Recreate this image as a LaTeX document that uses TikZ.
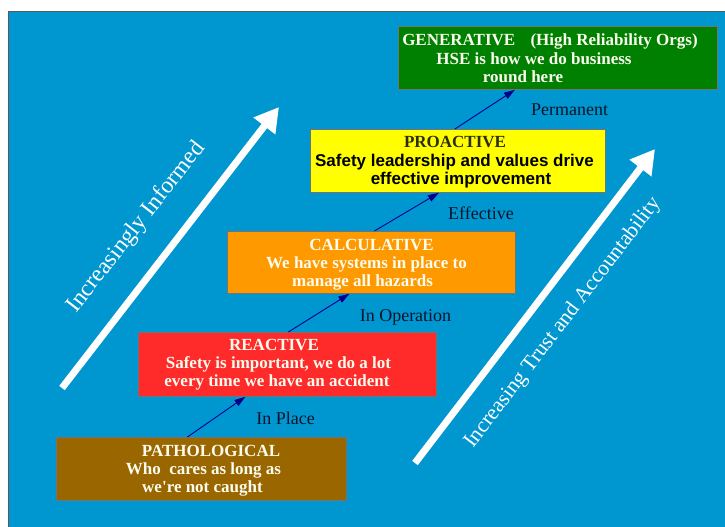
\documentclass[tikz,border=0pt]{standalone}
\usepackage{fontspec}
\setmainfont{Liberation Serif}
\newfontfamily\arialf{Liberation Sans}
\usetikzlibrary{arrows.meta,calc}
\definecolor{bgblue}{RGB}{0,150,208}
\definecolor{genfill}{RGB}{0,128,0}
\definecolor{profill}{RGB}{255,255,0}
\definecolor{calcfill}{RGB}{255,153,0}
\definecolor{reacfill}{RGB}{255,42,42}
\definecolor{pathfill}{RGB}{153,102,0}
\definecolor{boxwhite}{RGB}{252,252,238}
\definecolor{prodark}{RGB}{45,45,15}
\definecolor{labeldark}{RGB}{10,20,40}
\definecolor{navyline}{RGB}{0,0,140}
\begin{document}
\begin{tikzpicture}[x=1pt,y=-1pt,
  stagebox/.style={draw=black!55, line width=0.8pt, inner sep=0pt, anchor=north west},
  boxtxt/.style={anchor=base, inner sep=0pt, font=\fontsize{17}{20}\selectfont\bfseries, text=boxwhite},
  lvl/.style={anchor=base, inner sep=0pt, font=\fontsize{18}{21}\selectfont, text=labeldark},
  link/.style={draw=navyline, line width=0.9pt, -{Triangle[length=11pt,width=7pt]}},
  bigarrow/.style={draw=white, line width=7pt, -{Triangle[length=24pt,width=26pt]}}
]
\useasboundingbox (0,0) rectangle (725,527);
\fill[white] (0,0) rectangle (725,527);
\draw[fill=bgblue, draw=gray!70!black, line width=1pt] (8,12) rectangle (732,535);

% big white arrows
\coordinate (la0) at (62,388);
\coordinate (la1) at (279,107);
\coordinate (ra0) at (415,463);
\coordinate (ra1) at (655,149);
\draw[bigarrow] (la0) -- (la1);
\draw[bigarrow] (ra0) -- (ra1);
\node[anchor=base, inner sep=0pt, rotate=52, text=white, font=\fontsize{23.5}{28}\selectfont] (linf) at (141,231) {Increasingly Informed};
\node[anchor=base, inner sep=0pt, rotate=52.6, text=white, font=\fontsize{21.5}{25}\selectfont] (rtrust) at (567,326) {Increasing Trust and Accountability};

% stage boxes
\node[stagebox, fill=genfill, minimum width=319pt, minimum height=63pt] (gen) at (398,26) {};
\node[stagebox, fill=profill, minimum width=295pt, minimum height=63pt] (pro) at (310,129) {};
\node[stagebox, fill=calcfill, minimum width=288pt, minimum height=62pt] (calc) at (227,231) {};
\node[stagebox, fill=reacfill, minimum width=298pt, minimum height=64pt] (reac) at (138,332) {};
\node[stagebox, fill=pathfill, minimum width=290pt, minimum height=63pt] (path) at (56,437) {};

% box texts
\node[boxtxt] (gen1) at (550,46) {GENERATIVE\hspace{0.9em}(High Reliability Orgs)};
\node[boxtxt] (gen2) at (534,64) {HSE is how we do business};
\node[boxtxt] (gen3) at (523,82) {round here};

\node[boxtxt, text=prodark] (pro1) at (455,147) {PROACTIVE};
\node[anchor=base, inner sep=0pt, font=\arialf\fontsize{17}{20}\selectfont\bfseries, text=black] (pro2) at (454.5,166.5) {Safety leadership and values drive};
\node[anchor=base, inner sep=0pt, font=\arialf\fontsize{17}{20}\selectfont\bfseries, text=black] (pro3) at (461,184.5) {effective improvement};

\node[boxtxt] (calc1) at (371.5,250) {CALCULATIVE};
\node[boxtxt] (calc2) at (366.5,268.5) {We have systems in place to};
\node[boxtxt] (calc3) at (362.5,286.5) {manage all hazards};

\node[boxtxt] (reac1) at (274,350) {REACTIVE};
\node[boxtxt] (reac2) at (278.5,368) {Safety is important, we do a lot};
\node[boxtxt] (reac3) at (277,386.5) {every time we have an accident};

\node[boxtxt] (path1) at (211,456.5) {PATHOLOGICAL};
\node[boxtxt] (path2) at (203.5,474.5) {Who\hspace{0.5em}cares as long as};
\node[boxtxt] (path3) at (202.5,492) {we\textquotesingle re not caught};

% level labels
\node[lvl] (lperm) at (569.5,115) {Permanent};
\node[lvl] (leff) at (481,219) {Effective};
\node[lvl] (lop) at (405.5,321.5) {In Operation};
\node[lvl] (lplace) at (285.5,424) {In Place};

% connectors
\draw[link] ([xshift=-14pt]path.north) -- ([xshift=-42pt]reac.south);
\draw[link] ([xshift=1pt]reac.north) -- ([xshift=-22pt]calc.south);
\draw[link] ([xshift=3pt]calc.north) -- ([xshift=-19pt]pro.south);
\draw[link] ([xshift=-3pt]pro.north) -- ([xshift=-43pt]gen.south);
\end{tikzpicture}
\end{document}
